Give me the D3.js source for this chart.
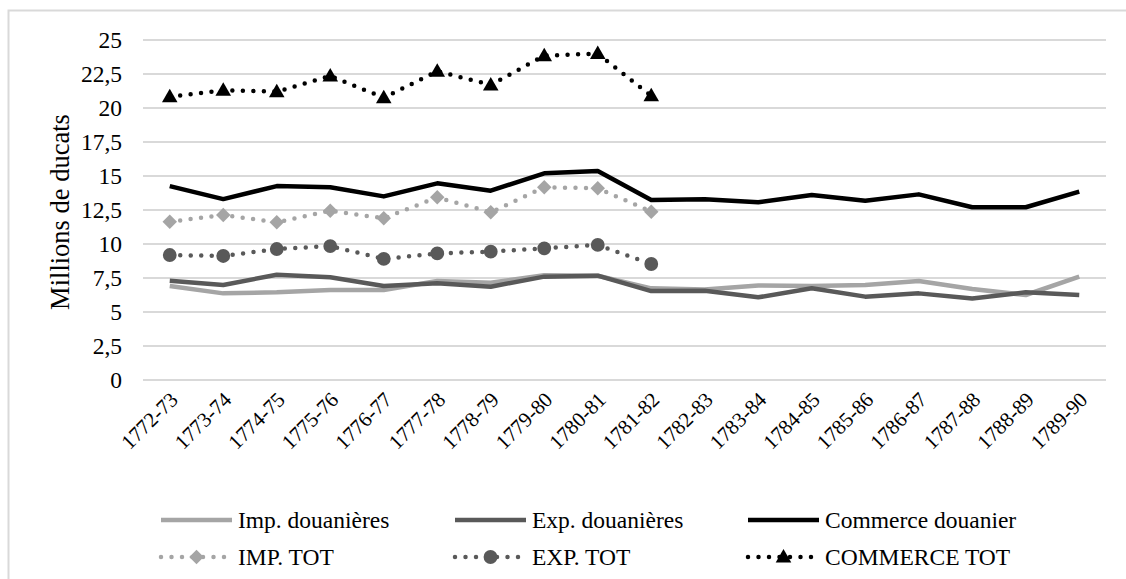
<!DOCTYPE html>
<html><head><meta charset="utf-8">
<script src="https://cdn.jsdelivr.net/npm/d3@7"></script>
<style>body{margin:0;background:#fff}svg{display:block}</style>
</head><body><svg id="c" width="1126" height="579"></svg>
<script>
const categories = ["1772-73","1773-74","1774-75","1775-76","1776-77","1777-78","1778-79","1779-80","1780-81","1781-82","1782-83","1783-84","1784-85","1785-86","1786-87","1787-88","1788-89","1789-90"];
const impDouane = [6.91,6.37,6.45,6.62,6.62,7.28,7.15,7.7,7.67,6.74,6.65,6.95,6.91,6.99,7.28,6.69,6.25,7.6];
const expDouane = [7.3,6.99,7.74,7.55,6.91,7.11,6.86,7.6,7.67,6.54,6.57,6.08,6.74,6.13,6.37,6.0,6.45,6.25];
const commDouane = [14.26,13.3,14.26,14.17,13.5,14.46,13.92,15.2,15.37,13.24,13.29,13.07,13.6,13.18,13.65,12.7,12.7,13.85];
const impTot = [11.64,12.13,11.6,12.45,11.89,13.43,12.33,14.17,14.1,12.38];
const expTot = [9.19,9.12,9.63,9.85,8.9,9.31,9.44,9.68,9.93,8.53];
const commTot = [20.83,21.3,21.2,22.35,20.76,22.7,21.7,23.85,24.0,20.9];
const yTicks = [0,2.5,5,7.5,10,12.5,15,17.5,20,22.5,25];
const seriesNames = ["Imp. douanières","Exp. douanières","Commerce douanier","IMP. TOT","EXP. TOT","COMMERCE TOT"];

const FONT = "'Liberation Serif'";

const series = [
  {name:seriesNames[0], values:impDouane, color:"#a5a5a5", dotted:false},
  {name:seriesNames[1], values:expDouane, color:"#595959", dotted:false},
  {name:seriesNames[2], values:commDouane, color:"#000000", dotted:false},
  {name:seriesNames[3], values:impTot, color:"#a5a5a5", dotted:true, marker:"diamond"},
  {name:seriesNames[4], values:expTot, color:"#595959", dotted:true, marker:"circle"},
  {name:seriesNames[5], values:commTot, color:"#000000", dotted:true, marker:"triangle"}
];

const svg = d3.select("#c");
svg.append("rect").attr("x",8.5).attr("y",10.5).attr("width",1130).attr("height",600)
  .attr("fill","none").attr("stroke","#d9d9d9").attr("stroke-width",2);

const x = d3.scalePoint().domain(categories).range([143,1106]).padding(0.5);
const y = d3.scaleLinear().domain([0,25]).range([380,40]);
const fmt = d => String(d).replace(".", ",");

svg.append("g").selectAll("line").data(yTicks).join("line")
  .attr("x1",143).attr("x2",1106).attr("y1",d=>y(d)).attr("y2",d=>y(d))
  .attr("stroke","#d9d9d9").attr("stroke-width",2);

const yAxis = d3.axisLeft(y).tickValues(yTicks).tickSize(0).tickPadding(0).tickFormat(fmt);
const gy = svg.append("g").attr("transform","translate(122,0)").call(yAxis);
gy.select(".domain").remove();
gy.attr("font-family",FONT).attr("font-size",23.5);
gy.selectAll("text").style("font-family",FONT).style("font-size","23.5px").attr("fill","#000").attr("dy","0.33em");

const xAxis = d3.axisBottom(x).tickSize(0).tickPadding(0);
const gx = svg.append("g").attr("transform","translate(0,380)").call(xAxis);
gx.select(".domain").remove();
gx.attr("font-family",FONT).attr("font-size",21);
gx.selectAll("text").style("font-family",FONT).style("font-size","21px").attr("fill","#000")
  .attr("text-anchor","end").attr("dy",0).attr("y",0)
  .attr("transform","translate(9,21) rotate(-45)");

svg.append("text").attr("transform","translate(69,212) rotate(-90)").attr("text-anchor","middle")
  .style("font-family",FONT).style("font-size","26.5px").text("Millions de ducats");

const line = d3.line().defined(d=>d!=null).x((d,i)=>x(categories[i])).y(d=>y(d));
const sym = {diamond:d3.symbolSquare, circle:d3.symbolCircle, triangle:d3.symbolTriangle};
const symSize = {diamond:105, circle:150, triangle:105};
const symRot = {diamond:45, circle:0, triangle:0};
const symDy = {diamond:0, circle:0, triangle:1};
function markerPath(m){ return d3.symbol().type(sym[m]).size(symSize[m])(); }

series.forEach(s=>{
  svg.append("path").datum(s.values).attr("d",line).attr("fill","none")
    .attr("stroke",s.color).attr("stroke-width",4.5)
    .attr("stroke-linecap",s.dotted?"round":"butt").attr("stroke-linejoin","round")
    .attr("stroke-dasharray",s.dotted?"0 10.5":null);
  if(s.marker){
    svg.append("g").selectAll("path").data(s.values).join("path")
      .attr("d",markerPath(s.marker))
      .attr("transform",(d,i)=>`translate(${x(categories[i])},${y(d)+symDy[s.marker]}) rotate(${symRot[s.marker]})`)
      .attr("fill",s.color);
  }
});

const legX = [161,455,748], legY = [520,557];
series.forEach((s,k)=>{
  const col = k%3, row = Math.floor(k/3);
  const g = svg.append("g").attr("transform",`translate(${legX[col]},${legY[row]})`);
  g.append("line").attr("x1",0).attr("x2",71).attr("y1",0).attr("y2",0)
    .attr("stroke",s.color).attr("stroke-width",4.5)
    .attr("stroke-linecap",s.dotted?"round":"butt")
    .attr("stroke-dasharray",s.dotted?"0 10.5":null);
  if(s.marker){
    g.append("path").attr("d",markerPath(s.marker))
      .attr("transform",`translate(35.5,${symDy[s.marker]}) rotate(${symRot[s.marker]})`).attr("fill",s.color);
  }
  g.append("text").attr("x",77).attr("y",0).attr("dy","0.33em")
    .style("font-family",FONT).style("font-size","23.5px").text(s.name);
});
</script></body></html>
